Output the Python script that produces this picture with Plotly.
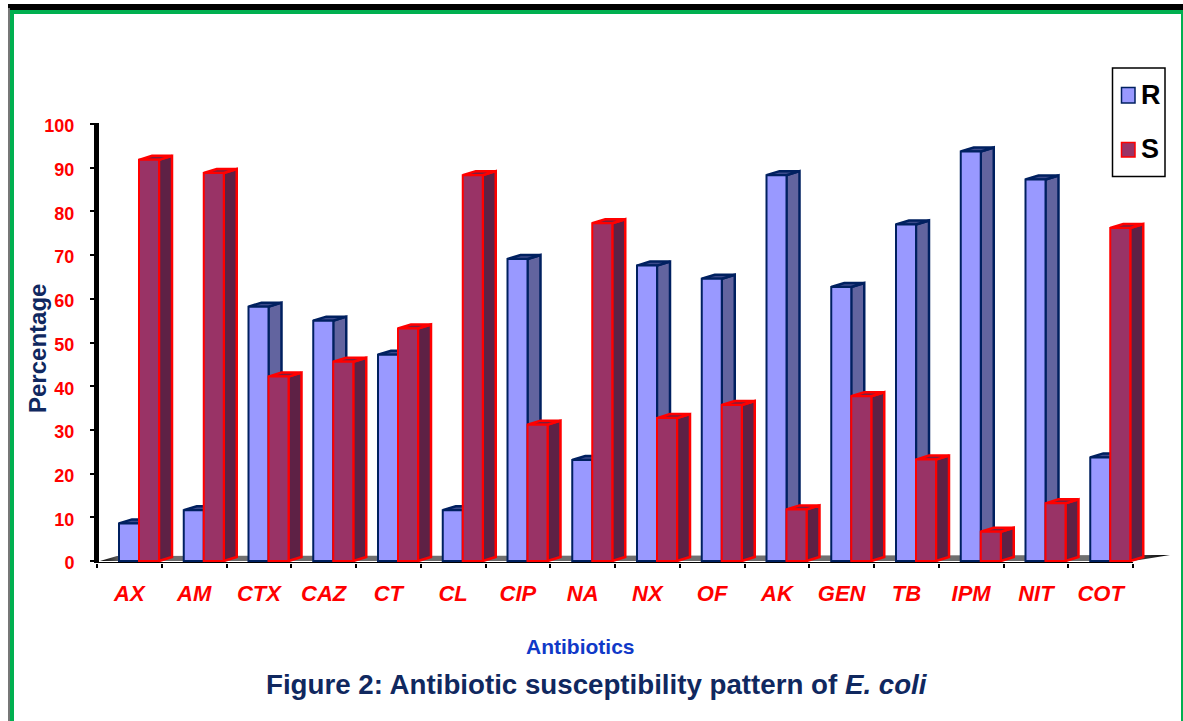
import plotly.graph_objects as go

categories = ["AX","AM","CTX","CAZ","CT","CL","CIP","NA","NX","OF","AK","GEN","TB","IPM","NIT","COT"]
r_values = [8.6,11.6,58.2,55,47.2,11.6,69.1,23.1,67.6,64.6,88.3,62.7,77,93.7,87.3,23.7]
s_values = [91.8,88.8,42.2,45.6,53.2,88.3,31.2,77.3,32.7,35.7,11.8,37.7,23.2,6.7,13.2,76.2]
y_ticks = list(range(0,101,10))

W, H = 1183, 721
L, R, T, B = 97, 1175, 124, 563
PX_X = 64.75
PX_Y = 4.37
x_max = (R-L)/PX_X
y_min = -(B-561)/PX_Y
DX, DY = 13/PX_X, 4/PX_Y
BW = 20/PX_X
R_OFF, S_OFF = 22/PX_X, 42/PX_X
FONT = "Liberation Sans, Arial, sans-serif"
NAVY = "#002060"
R_FRONT, S_FRONT = "#9999ff", "#993366"
S_EDGE = "#ff0000"

def faces(values, off):
    sx, sy, tx, ty = [], [], [], []
    for i, v in enumerate(values):
        a, b = i+off, i+off+BW
        sx += [b, b+DX, b+DX, b, b, None]
        sy += [0, DY, v+DY, v, 0, None]
        tx += [a, a+DX, b+DX, b, a, None]
        ty += [v, v+DY, v+DY, v, v, None]
    return sx, sy, tx, ty

def poly(x, y, fill, line, z, lw=2.5):
    return go.Scatter(x=x, y=y, mode="lines", fill="toself", fillcolor=fill,
                      line=dict(color=line, width=lw), showlegend=False,
                      hoverinfo="skip", zorder=z)

fig = go.Figure()
# floor
fx = [3/PX_X, 20/PX_X, (1170-L)/PX_X, 16, 3/PX_X]
fy = [0, 5/PX_Y, 6/PX_Y, 0, 0]
fig.add_trace(go.Scatter(x=fx, y=fy, mode="lines", fill="toself", line=dict(width=0, color="#707070"),
    fillgradient=dict(type="horizontal", colorscale=[[0,"#000000"],[0.02,"#707070"],[0.95,"#707070"],[1,"#000000"]]),
    showlegend=False, hoverinfo="skip", zorder=0))
# x axis line
fig.add_trace(go.Scatter(x=[0,16], y=[y_min,y_min], mode="lines", line=dict(color="#000000", width=2),
    showlegend=False, hoverinfo="skip", zorder=0))

for name, vals, off, front, side, top, edge, z in [
    ("R", r_values, R_OFF, R_FRONT, "#62649f", "#3c4b8c", NAVY, 1),
    ("S", s_values, S_OFF, S_FRONT, "#5e2145", "#7a1f3f", S_EDGE, 3),
]:
    sx, sy, tx, ty = faces(vals, off)
    fig.add_trace(poly(sx, sy, side, edge, z))
    fig.add_trace(poly(tx, ty, top, edge, z))
    fig.add_trace(go.Bar(x=[i+off for i in range(len(vals))], y=vals, width=BW, offset=0,
        name=name, showlegend=False, marker=dict(color=front, line=dict(color=edge, width=2)),
        hoverinfo="skip", zorder=z+1))

fr = lambda px: (px-L)/(R-L)
fh = lambda py: 1-(py-T)/(B-T)
def rect(x0,y0,x1,y1,c,line=None):
    return dict(type="rect", xref="paper", yref="paper", x0=fr(x0), x1=fr(x1), y0=fh(y0), y1=fh(y1),
                fillcolor=c, line=line or dict(width=0))
def note(text, x, y, size, color, angle=0):
    return dict(text=text, xref="paper", yref="paper", x=fr(x), y=fh(y), textangle=angle, showarrow=False,
                font=dict(size=size, color=color, family=FONT), xanchor="center", yanchor="middle")

fig.update_layout(
    width=W, height=H, autosize=False, paper_bgcolor="white", plot_bgcolor="white",
    margin=dict(l=L, r=W-R, t=T, b=H-B, autoexpand=False),
    barmode="overlay", font=dict(family=FONT), showlegend=False,
    xaxis=dict(range=[0,x_max], tickmode="array",
        tickvals=[i+0.5 for i in range(len(categories))], ticktext=[f"<b><i>{c}</i></b>" for c in categories],
        ticks="", showgrid=False, zeroline=False, showline=False, ticklabelstandoff=15,
        tickfont=dict(size=22, color="#ff0000", family=FONT),
        minor=dict(tickmode="array", tickvals=list(range(len(categories)+1)), ticks="outside", ticklen=4, tickwidth=1.5, tickcolor="#000000", showgrid=False)),
    yaxis=dict(range=[y_min,100], tickmode="array", tickvals=y_ticks, ticktext=[f"<b>{t}</b>" for t in y_ticks],
        ticks="outside", ticklen=6, tickwidth=2, tickcolor="#000000", showgrid=False, zeroline=False,
        showline=False, ticklabelstandoff=12, ticklabelshift=2,
        tickfont=dict(size=18, color="#ff0000", family=FONT)),
    shapes=[
        rect(8,4,1183,10,"#000000"),
        rect(8,8,10,721,"#777777"),
        rect(10,10,1183,14,"#00b050"),
        rect(10,10,14,721,"#00b050"),
        rect(1181,14,1183,721,"#00b050"),
        rect(94,123,99,563,"#000000"),
        rect(1112.5,68,1165,176.5,"white",dict(color="#000000",width=1.5)),
        rect(1121.5,87.5,1135,103,R_FRONT,dict(color=NAVY,width=1.5)),
        rect(1121.5,142.5,1135,157,S_FRONT,dict(color=S_EDGE,width=1.5)),
    ],
    annotations=[
        note("<b>Percentage</b>", 37, 349, 24, "#10285f", -90),
        note("<b>Antibiotics</b>", 580, 646, 21, "#1039c8"),
        note("<b>Figure 2: Antibiotic susceptibility pattern of <i>E. coli</i></b>", 597, 684, 27.7, "#10285f"),
        note("<b>R</b>", 1151, 95, 27, "#000000"),
        note("<b>S</b>", 1150, 149, 27, "#000000"),
    ],
)
fig.write_html("out.html", config={"displayModeBar": False},
               post_script="document.body.style.margin='0';")
